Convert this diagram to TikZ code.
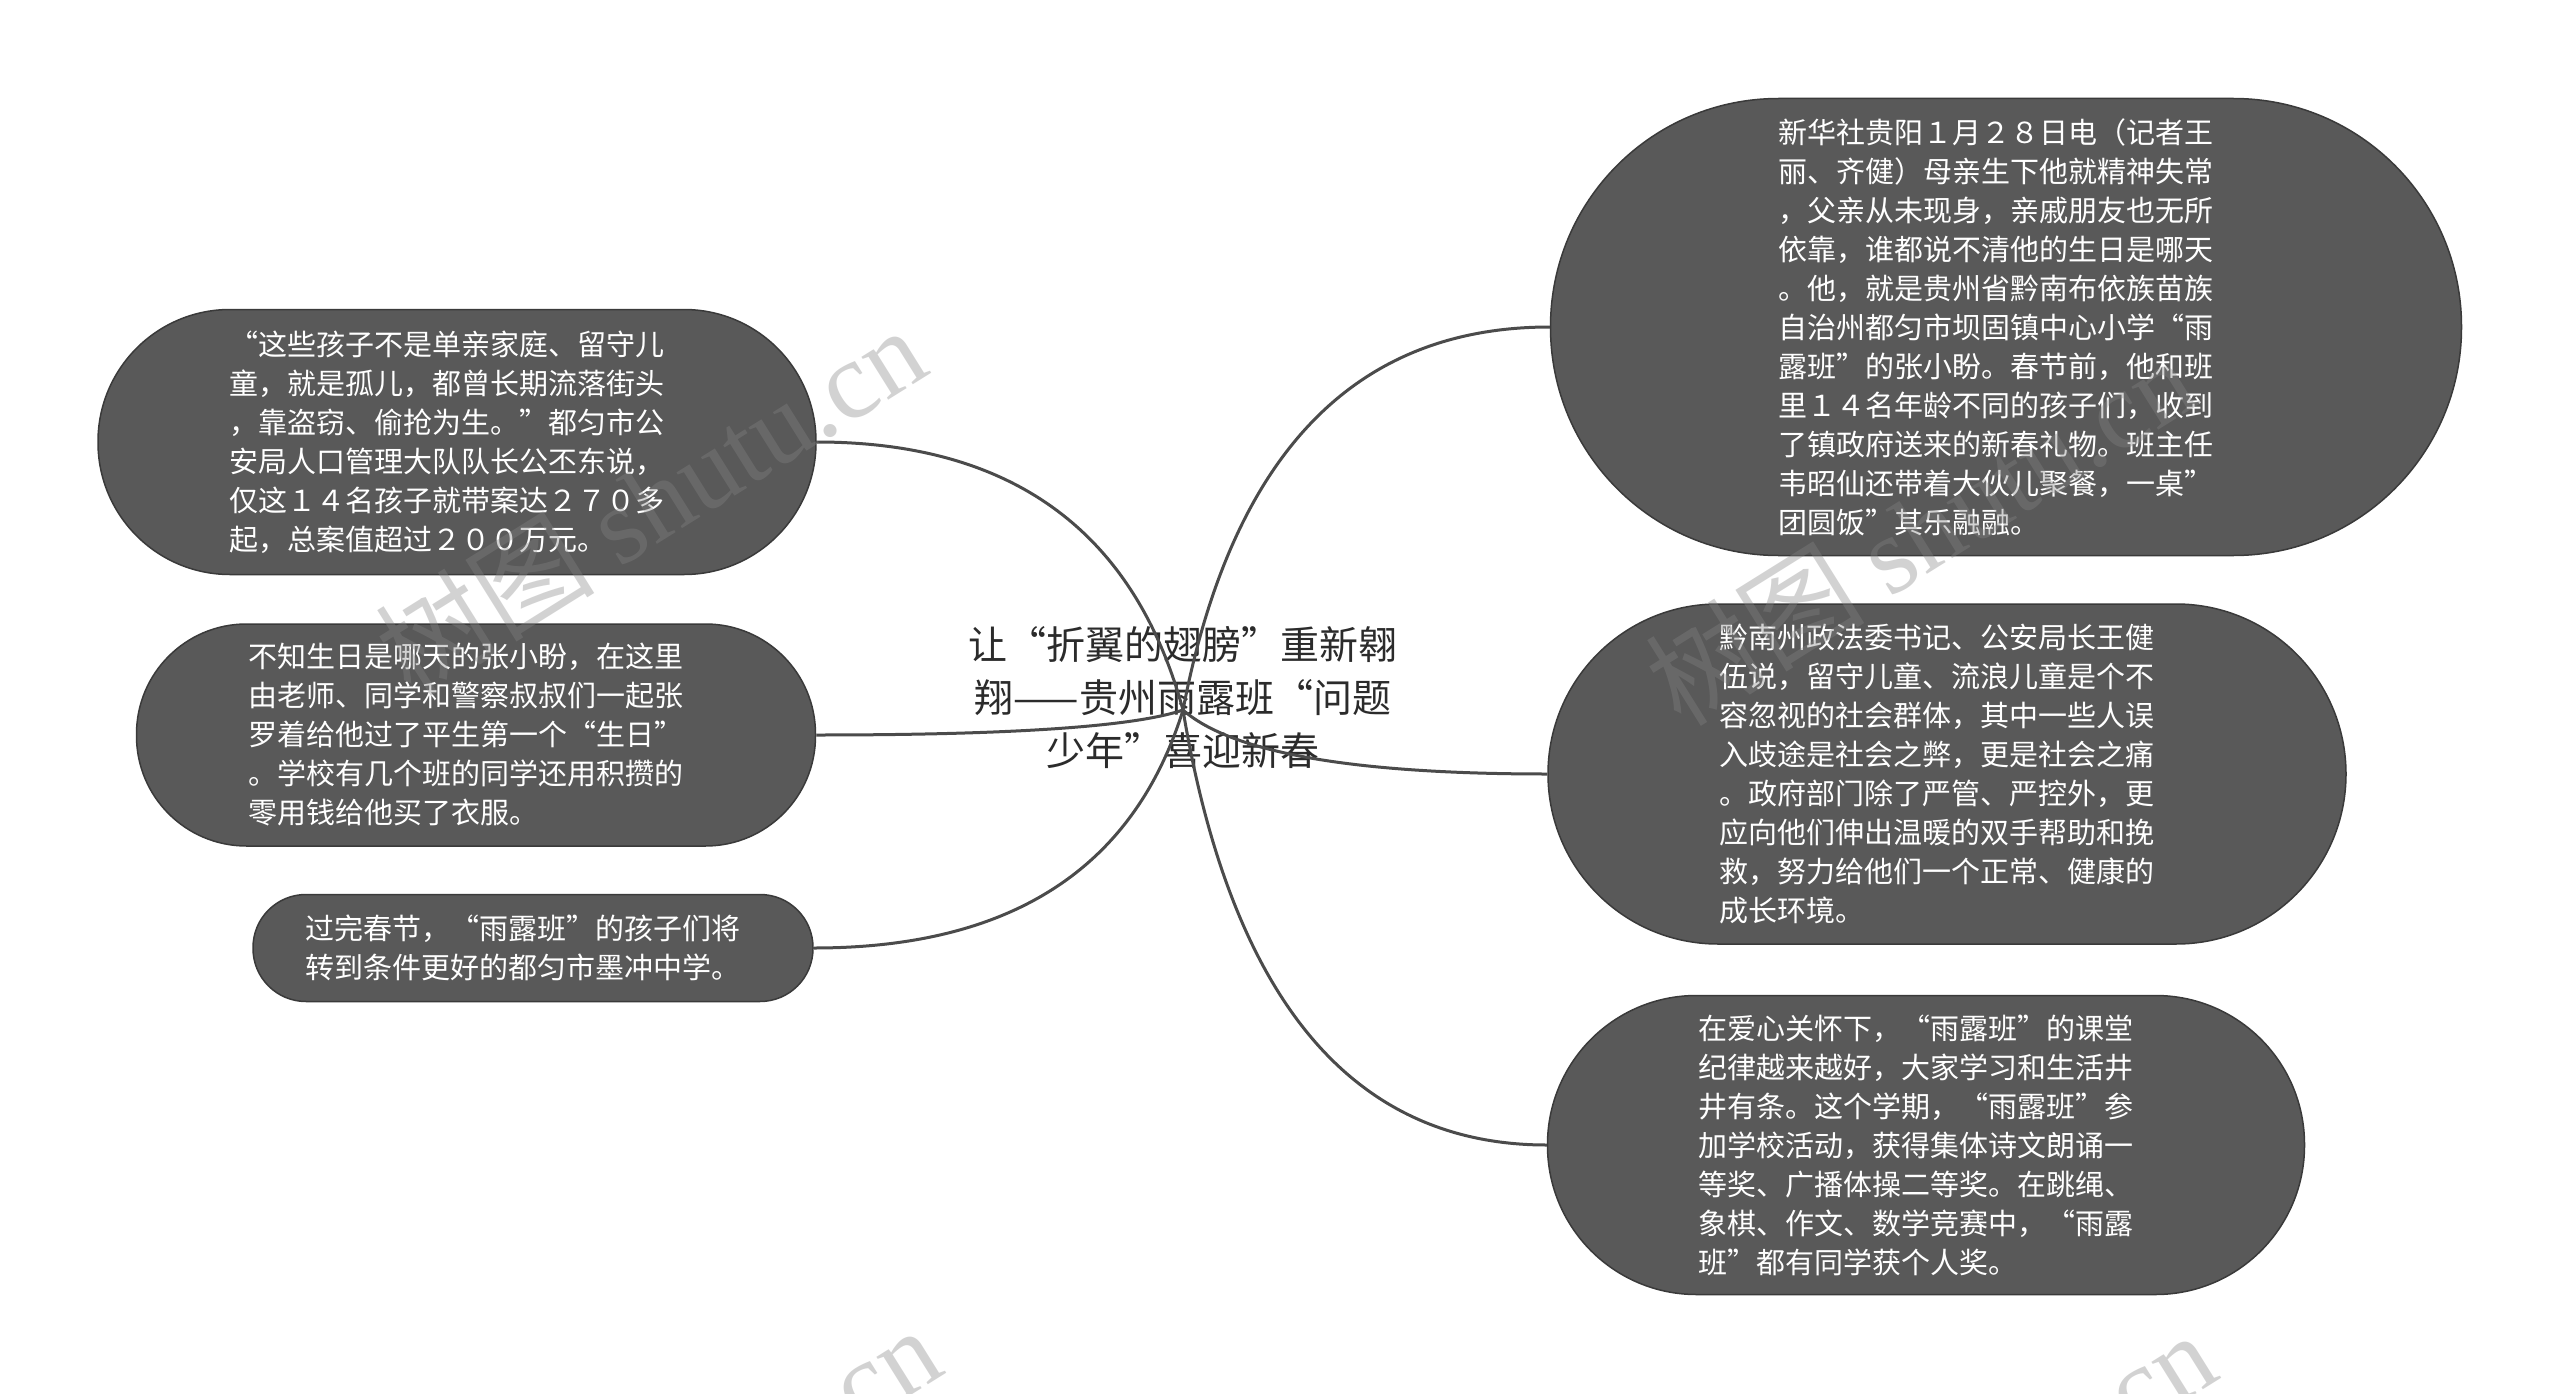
\documentclass[tikz,border=0pt]{standalone}
\usepackage{fontspec}
\setmainfont{Noto Sans CJK SC}
\newfontfamily\wmlat{Liberation Serif}
\usetikzlibrary{calc}
\definecolor{nodefill}{RGB}{89,89,89}
\definecolor{nodeline}{RGB}{58,58,58}
\definecolor{connline}{RGB}{75,75,75}
\definecolor{roottext}{RGB}{43,43,43}
\definecolor{wmgray}{RGB}{133,133,133}
\tikzset{
  bub/.style={draw=nodeline, line width=1.5pt, fill=nodefill, text=white,
    align=left, text width=455pt, inner sep=0pt, font=\fontsize{29}{39}\selectfont},
  roottitle/.style={text=roottext, align=center, inner sep=0pt,
    font=\fontsize{39}{53}\selectfont},
  conn/.style={draw=connline, line width=3pt},
  wm/.style={text=wmgray, opacity=0.36, inner sep=0pt,
    font=\fontsize{110}{110}\selectfont}
}
\begin{document}
\begin{tikzpicture}[x=1pt,y=-1pt]
\fill[white] (0,0) rectangle (2560,1394);
\useasboundingbox (0,0) rectangle (2560,1394);

\node[roottitle] (root) at (1183,698) {让“折翼的翅膀”重新翱\\翔——贵州雨露班“问题\\少年”喜迎新春};
\coordinate (hub) at ([yshift=-12pt]root.center);

\node[bub, minimum width=718pt, minimum height=265pt, rounded corners=132pt] (L1) at (457,442)
 {“这些孩子不是单亲家庭、留守儿\\童，就是孤儿，都曾长期流落街头\\，靠盗窃、偷抢为生。”都匀市公\\安局人口管理大队队长公丕东说，\\仅这１４名孩子就带案达２７０多\\起，总案值超过２００万元。};

\node[bub, minimum width=679pt, minimum height=222pt, rounded corners=110pt] (L2) at (476,735)
 {不知生日是哪天的张小盼，在这里\\由老师、同学和警察叔叔们一起张\\罗着给他过了平生第一个“生日”\\。学校有几个班的同学还用积攒的\\零用钱给他买了衣服。};

\node[bub, minimum width=560pt, minimum height=107pt, rounded corners=53pt] (L3) at (533,948)
 {过完春节，“雨露班”的孩子们将\\转到条件更好的都匀市墨冲中学。};

\node[bub, minimum width=911pt, minimum height=457pt, rounded corners=228pt] (R1) at (2006,327)
 {新华社贵阳１月２８日电（记者王\\丽、齐健）母亲生下他就精神失常\\，父亲从未现身，亲戚朋友也无所\\依靠，谁都说不清他的生日是哪天\\。他，就是贵州省黔南布依族苗族\\自治州都匀市坝固镇中心小学“雨\\露班”的张小盼。春节前，他和班\\里１４名年龄不同的孩子们，收到\\了镇政府送来的新春礼物。班主任\\韦昭仙还带着大伙儿聚餐，一桌”\\团圆饭”其乐融融。};

\node[bub, minimum width=798pt, minimum height=340pt, rounded corners=170pt] (R2) at (1947,774)
 {黔南州政法委书记、公安局长王健\\伍说，留守儿童、流浪儿童是个不\\容忽视的社会群体，其中一些人误\\入歧途是社会之弊，更是社会之痛\\。政府部门除了严管、严控外，更\\应向他们伸出温暖的双手帮助和挽\\救，努力给他们一个正常、健康的\\成长环境。};

\node[bub, minimum width=757pt, minimum height=299pt, rounded corners=149pt] (R3) at (1926,1145)
 {在爱心关怀下，“雨露班”的课堂\\纪律越来越好，大家学习和生活井\\井有条。这个学期，“雨露班”参\\加学校活动，获得集体诗文朗诵一\\等奖、广播体操二等奖。在跳绳、\\象棋、作文、数学竞赛中，“雨露\\班”都有同学获个人奖。};

\foreach \n/\a in {L1/east, L2/east, L3/east, R1/west, R2/west, R3/west}{
  \coordinate (p\n) at (hub |- \n.\a);
  \coordinate (c\n) at ($(p\n)!0.2!(\n.\a)$);
  \draw[conn] (hub) .. controls ($(hub)!0.667!(c\n)$) and ($(\n.\a)!0.667!(c\n)$) .. (\n.\a);
}

\begin{scope}
\clip (0,0) rectangle (2560,1394);
\node[wm, rotate=32] (wm1) at (650,500) {树图 {\wmlat shutu.cn}};
\node[wm, rotate=32] (wm2) at (1920,530) {树图 {\wmlat shutu.cn}};
\node[wm, rotate=32] (wm3) at (665,1500) {树图 {\wmlat shutu.cn}};
\node[wm, rotate=32] (wm4) at (1940,1505) {树图 {\wmlat shutu.cn}};
\end{scope}
\end{tikzpicture}
\end{document}
